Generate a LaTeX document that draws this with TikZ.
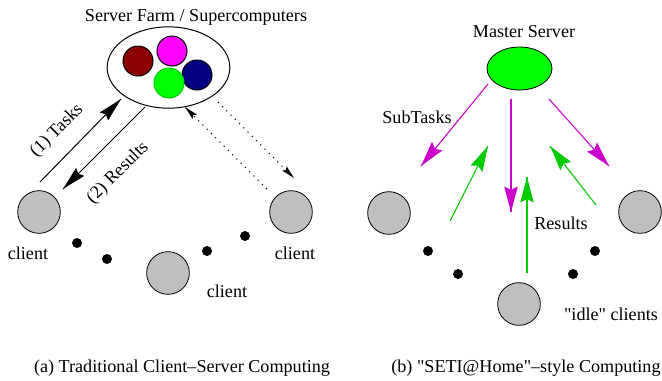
\documentclass[tikz,border=0pt]{standalone}
\usepackage{fontspec}
\setmainfont{Liberation Serif}[Ligatures=TeXOff]
\usepackage{tikz}
\usetikzlibrary{arrows.meta}
\usetikzlibrary{decorations.markings}
\usetikzlibrary{positioning}
\usetikzlibrary{shapes.geometric}
\definecolor{cgray}{gray}{0.75}
\definecolor{mred}{rgb}{0.55, 0, 0}
\definecolor{mnavy}{rgb}{0, 0, 0.5}
\definecolor{mmagenta}{rgb}{1, 0, 1}
\definecolor{mlime}{rgb}{0, 1, 0}
\definecolor{tmagenta}{rgb}{0.8, 0, 0.8}
\definecolor{tgreen}{rgb}{0, 0.8, 0}
\tikzset{bigtip/.style = {decoration={markings,
                                      mark=at position 1 with {\arrow{Stealth[length=18pt, width=8.5pt, inset=2pt]}}},
                          postaction={decorate}}}
\tikzset{fattip/.style = {decoration={markings,
                                      mark=at position 1 with {\arrow{Stealth[length=19pt, width=10pt, inset=2.5pt]}}},
                          postaction={decorate}}}
\tikzset{thintip/.style = {decoration={markings,
                                       mark=at position 1 with {\arrow{Stealth[length=10pt, width=4.5pt, inset=1.5pt]}}},
                           postaction={decorate}}}
\tikzset{client/.style = {draw, circle, fill=cgray, inner sep = 0, minimum size = 32pt, line width=0.6pt}}
\tikzset{circ/.style = {fill, circle, inner sep = 0, minimum size = 7.5pt}}
\tikzset{cpu/.style = {draw, circle, inner sep = 0, minimum size = 22.5pt, line width=0.75pt}}
\tikzset{sparse/.style = {dash pattern=on 0.8pt off 3.7pt, line width=0.8pt}}

\begin{document}
\begin{tikzpicture}[x=0.75pt, y=-0.75pt, font=\fontsize{13.6}{16}\selectfont]
      \useasboundingbox (0, 0) rectangle (662, 380);

      % server farm and its clients
      \node (farmtitle) at (196, 17) {Server Farm / Supercomputers};
      \node (farm) [draw, ellipse, line width=0.75pt, minimum width=92pt, minimum height=61pt] at (168.5, 67.5) {};
      \node (cpua) [cpu, fill=mred] at (138, 61) {};
      \node (cpub) [cpu, fill=mmagenta] at (172, 51) {};
      \node (cpuc) [cpu, fill=mnavy] at (197, 75) {};
      \node (cpud) [cpu, fill=mlime, draw=mlime!80!black] at (169, 83) {};

      \node (cl) [client] at (39, 212) {};
      \node (cm) [client] at (168, 273) {};
      \node (cr) [client] at (291, 212) {};
      \node at (28, 253) {client};
      \node at (227, 291) {client};
      \node at (295, 253) {client};
      \node [circ] at (77, 243) {};
      \node [circ] at (107, 259) {};
      \node [circ] at (207, 251) {};
      \node [circ] at (245, 236) {};

      \coordinate (taskin) at (40, 182);
      \coordinate (taskout) at (121, 99);
      \coordinate (resin) at (145, 107);
      \coordinate (resout) at (63, 189);
      \draw [bigtip, line width=0.75pt] (taskin) -- (taskout);
      \draw [bigtip, line width=0.75pt] (resin) -- (resout);
      \node [rotate=45] at (57, 131) {(1) Tasks};
      \node [rotate=45] at (118, 173) {(2) Results};

      \coordinate (dotin) at (267, 189);
      \coordinate (dotout) at (185, 107);
      \coordinate (dotin2) at (218, 102);
      \coordinate (dotout2) at (294, 178);
      \draw [thintip, sparse] (dotin) -- (dotout);
      \draw [thintip, sparse] (dotin2) -- (dotout2);

      \node (capa) at (182, 368) {(a) Traditional Client–Server Computing};

      % master server with idle clients
      \node (mtitle) at (524, 32) {Master Server};
      \node (master) [draw, ellipse, fill=mlime, line width=0.6pt, minimum width=48.75pt, minimum height=32.25pt] at (519.5, 68.5) {};

      \node (il) [client] at (389, 213) {};
      \node (ib) [client] at (519, 304) {};
      \node (ir) [client] at (640, 212) {};
      \node [circ] at (428, 251) {};
      \node [circ] at (458, 274) {};
      \node [circ] at (573, 274) {};
      \node [circ] at (595, 251) {};

      \coordinate (sa1) at (488, 84);
      \coordinate (sa2) at (421, 166);
      \coordinate (sb1) at (511, 99);
      \coordinate (sb2) at (511, 212);
      \coordinate (sc1) at (549, 99);
      \coordinate (sc2) at (609, 166);
      \draw [fattip, tmagenta, line width=0.8pt] (sa1) -- (sa2);
      \draw [fattip, tmagenta, line width=0.8pt] (sb1) -- (sb2);
      \draw [fattip, tmagenta, line width=0.8pt] (sc1) -- (sc2);

      \coordinate (ra1) at (450, 221);
      \coordinate (ra2) at (488, 146);
      \coordinate (rb1) at (527, 273);
      \coordinate (rb2) at (527, 177);
      \coordinate (rc1) at (596, 205);
      \coordinate (rc2) at (550, 146);
      \draw [fattip, tgreen, line width=0.8pt] (ra1) -- (ra2);
      \draw [fattip, tgreen, line width=0.8pt] (rb1) -- (rb2);
      \draw [fattip, tgreen, line width=0.8pt] (rc1) -- (rc2);

      \node at (417, 117) {SubTasks};
      \node at (561, 223) {Results};
      \node at (611, 314) {"idle" clients};

      \node (capb) at (526, 368) {(b) "SETI@Home"–style Computing};
    \end{tikzpicture}
\end{document}
